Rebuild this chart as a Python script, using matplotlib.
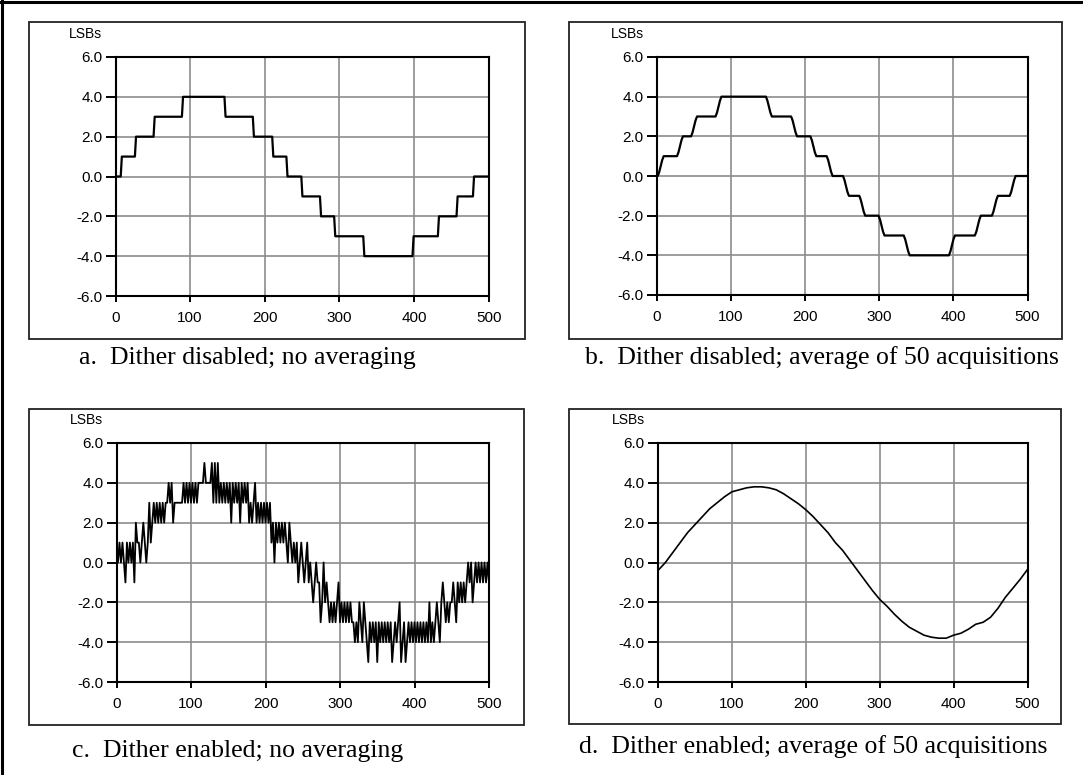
"""
Four small LSB plots (dither / averaging comparison) in one boxed figure.
"""

import numpy as np
import matplotlib.pyplot as plt
from matplotlib.patches import Rectangle
from matplotlib.lines import Line2D

W, H = 1083, 775

# panel a: staircase, transition positions and levels
a_edges = [0, 7, 26, 51, 89, 146, 184, 210, 229, 249, 274, 293, 332, 398, 432, 457, 479, 500]
a_levels = [0, 1, 2, 3, 4, 3, 2, 1, 0, -1, -2, -3, -4, -3, -2, -1, 0]

# panel b: averaged staircase
b_x = [0, 1, 3, 5, 7, 9,
       27, 29, 31, 33, 35,
       46, 48, 50, 52, 54,
       79, 81, 83, 85, 87,
       147, 149, 151, 153, 155,
       181, 183, 185, 187, 189,
       207, 209, 211, 213, 215,
       229, 231, 233, 235, 237,
       251, 253, 255, 257, 259,
       273, 275, 277, 279, 281,
       299, 301, 303, 305, 307,
       333, 335, 337, 339, 341,
       394, 396, 398, 400, 402,
       429, 431, 433, 435, 437,
       452, 454, 456, 458, 460,
       476, 478, 480, 482, 484, 500]
b_y = [0, 0, 0.2, 0.5, 0.8, 1,
       1, 1.2, 1.5, 1.8, 2,
       2, 2.2, 2.5, 2.8, 3,
       3, 3.2, 3.5, 3.8, 4,
       4, 3.8, 3.5, 3.2, 3,
       3, 2.8, 2.5, 2.2, 2,
       2, 1.8, 1.5, 1.2, 1,
       1, 0.8, 0.5, 0.2, 0,
       0, -0.2, -0.5, -0.8, -1,
       -1, -1.2, -1.5, -1.8, -2,
       -2, -2.2, -2.5, -2.8, -3,
       -3, -3.2, -3.5, -3.8, -4,
       -4, -3.8, -3.5, -3.2, -3,
       -3, -2.8, -2.5, -2.2, -2,
       -2, -1.8, -1.5, -1.2, -1,
       -1, -0.8, -0.5, -0.2, 0, 0]

# panel c: dithered samples, one every 2 units
c_y = [0, 0, 1, 0, 1, 0, -1, 1, 0, 1,
       0, 1, -1, 2, 1, 1, 0, 1, 2, 1,
       0, 1, 3, 1, 2, 3, 2, 3, 2, 3,
       2, 3, 2, 3, 3, 4, 3, 4, 2, 3,
       3, 3, 3, 3, 3, 4, 3, 4, 3, 4,
       3, 4, 3, 4, 3, 4, 4, 4, 4, 5,
       4, 4, 4, 4, 5, 3, 5, 3, 5, 3,
       4, 3, 4, 3, 4, 3, 4, 2, 4, 3,
       4, 3, 4, 2, 4, 3, 4, 3, 4, 2,
       3, 2, 3, 4, 2, 3, 2, 3, 2, 3,
       2, 3, 2, 3, 1, 2, 0, 2, 1, 2,
       1, 2, 1, 2, 1, 0, 2, 1, 0, 1,
       0, 1, -1, 0, 1, 0, -1, 0, 1, -1,
       0, -1, -2, -1, 0, -1, -1, -3, -2, 0,
       -2, -1, -2, -3, -2, -3, -2, -3, -2, -1,
       -3, -2, -3, -2, -3, -2, -3, -2, -3, -3,
       -4, -3, -4, -2, -3, -4, -2, -3, -4, -5,
       -3, -4, -3, -4, -3, -5, -3, -4, -3, -4,
       -3, -4, -3, -4, -3, -5, -4, -3, -4, -3,
       -2, -5, -4, -3, -5, -4, -3, -4, -3, -4,
       -3, -4, -3, -4, -3, -4, -3, -4, -3, -4,
       -2, -4, -3, -4, -3, -2, -3, -4, -2, -1,
       -2, -3, -2, -3, -2, -2, -1, -2, -3, -1,
       -2, -1, -2, -1, -2, -1, 0, -1, 0, -2,
       -1, 0, -1, 0, -1, 0, -1, 0, -1, 0, -1]
c_x = list(range(0, 501, 2))

# panel d: dithered + averaged, read every 10 units
d_x = list(range(0, 501, 10))
d_y = [-0.4, 0.0, 0.5, 1.0, 1.5, 1.9, 2.3, 2.7, 3.0, 3.3,
       3.55, 3.65, 3.75, 3.8, 3.8, 3.75, 3.65, 3.45, 3.2, 2.95,
       2.65, 2.3, 1.9, 1.5, 1.0, 0.6, 0.1, -0.4, -0.9, -1.4,
       -1.85, -2.2, -2.6, -2.95, -3.25, -3.45, -3.65, -3.75, -3.8, -3.8,
       -3.65, -3.55, -3.35, -3.1, -3.0, -2.75, -2.3, -1.75, -1.3, -0.85,
       -0.35]

captions = ["a.  Dither disabled; no averaging",
            "b.  Dither disabled; average of 50 acquisitions",
            "c.  Dither enabled; no averaging",
            "d.  Dither enabled; average of 50 acquisitions"]

x_ticks = [0, 100, 200, 300, 400, 500]
y_ticks = [-6, -4, -2, 0, 2, 4, 6]

# pixel layout: box (x0, y0, x1, y1), axes (x0, y0, x1, y1), caption centre (x, y)
boxes = [(29, 22, 525, 339), (569, 22, 1062, 339), (29, 409, 524, 725), (569, 409, 1061, 724)]
axboxes = [(115.5, 57, 488.6, 296), (657, 57, 1027.5, 295), (116.5, 443, 489, 682), (658, 443, 1027.5, 682)]
cap_pos = [(247, 358), (822, 358), (238, 751), (813, 747)]


def fx(px):
    return px / W


def fy(py):
    return 1 - py / H


def build_steps(edges, levels, ramp=1.5):
    xs, ys = [], []
    for i, lev in enumerate(levels):
        xs += [edges[i] + (ramp if i > 0 else 0), edges[i + 1]]
        ys += [lev, lev]
    return xs, ys


def style_axes(ax):
    ax.set_xlim(0, 500)
    ax.set_ylim(-6, 6)
    ax.set_xticks(x_ticks)
    ax.set_yticks(y_ticks)
    ax.set_yticklabels(['%.1f' % v for v in y_ticks])
    ax.grid(True, color='#8c8c8c', lw=1.2)
    ax.set_axisbelow(True)
    for s in ax.spines.values():
        s.set_color('black')
        s.set_linewidth(1.5)
    ax.tick_params(axis='y', direction='out', length=7.5, width=1.4, pad=2,
                   labelsize=11, colors='black')
    ax.tick_params(axis='x', direction='out', length=4.5, width=1.4, pad=6,
                   labelsize=11, colors='black')
    for lab in ax.get_xticklabels() + ax.get_yticklabels():
        lab.set_family('Liberation Sans')


fig = plt.figure(figsize=(W / 100, H / 100), dpi=100)

a_x, a_y = build_steps(a_edges, a_levels)
series = [(a_x, a_y, 1.6), (b_x, b_y, 1.6), (c_x, c_y, 1.3), (d_x, d_y, 1.2)]

for i in range(4):
    bx0, by0, bx1, by1 = boxes[i]
    fig.patches.append(Rectangle((fx(bx0), fy(by1)), fx(bx1 - bx0), (by1 - by0) / H,
                                 transform=fig.transFigure, fill=False,
                                 edgecolor='#222222', lw=1.3))
    x0, y0, x1, y1 = axboxes[i]
    ax = fig.add_axes([fx(x0), fy(y1), fx(x1 - x0), (y1 - y0) / H])
    style_axes(ax)
    xs, ys, lw = series[i]
    ax.plot(xs, ys, color='black', lw=lw)
    fig.text(fx(x0 - 30), fy(y0 - 23), 'LSBs', ha='center', va='center',
             fontsize=10, family='Liberation Sans')
    cx, cy = cap_pos[i]
    fig.text(fx(cx), fy(cy), captions[i], ha='center', va='center',
             fontsize=18.5, family='Liberation Serif')

# outer frame: only top and left edges show
fig.lines.append(Line2D([0, 1], [fy(1.5), fy(1.5)], transform=fig.transFigure, color='black', lw=2.2))
fig.lines.append(Line2D([fx(1.5), fx(1.5)], [0, 1], transform=fig.transFigure, color='black', lw=2.2))

fig.savefig('out.png', dpi=100)
